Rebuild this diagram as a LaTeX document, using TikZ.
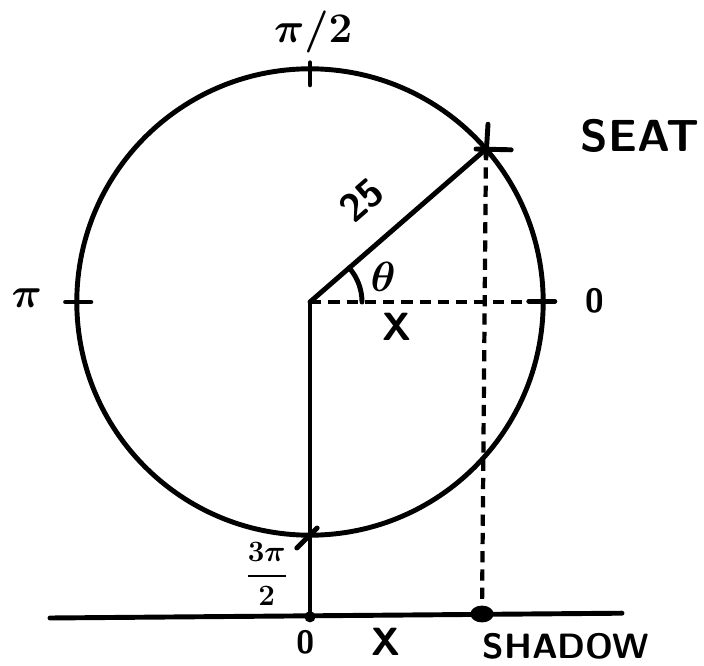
\documentclass[tikz,border=0pt]{standalone}
\usepackage{fix-cm}
\usepackage{amsmath}
\usepackage{tikz}
\usetikzlibrary{positioning,shapes.geometric}

\begin{document}
\begin{tikzpicture}[line cap=round,
	pen/.style={line width=3.5pt},
	dashpen/.style={line width=3pt,line cap=butt,dash pattern=on 8pt off 5pt},
	lbl/.style={font=\sffamily\bfseries\fontsize{28}{30}\selectfont,inner sep=0pt},
	mlbl/.style={font=\boldmath\fontsize{30}{32}\selectfont,inner sep=0pt}]
	\useasboundingbox (-7.75,-9.1) rectangle (9.85,7.55);
	\coordinate (C) at (0,0);          % centre of the wheel
	\coordinate (S) at (41:5.83);      % the seat
	\coordinate (T) at (90:5.83);      % pi/2 mark
	\coordinate (L) at (180:5.83);     % pi mark
	\coordinate (B) at (270:5.83);     % 3pi/2 mark
	\coordinate (E) at (6.12,0);       % end of dashed x line
	\coordinate (gl) at (-6.5,-7.9);   % ground line
	\coordinate (gr) at (7.8,-7.78);
	\draw[pen] (C) circle (5.83);
	\draw[pen] (gl) -- (gr);           % ground
	\node[circle,fill,inner sep=0pt,minimum size=0.28cm] (O) at (0,-7.87) {};
	\node[ellipse,fill,inner sep=0pt,minimum width=0.58cm,minimum height=0.42cm] (sh) at (4.3,-7.8) {};
	\draw[pen] (C) -- (S);             % radius
	\draw[pen] (C) -- (O);
	\draw[dashpen] (C) -- (E);         % x
	\draw[dashpen] (S) -- (sh);        % down to the shadow
	\draw[pen] (1.3,0) arc (0:41:1.3); % theta
	% ticks
	\draw[pen] ([yshift=0.15cm]T) -- ([yshift=-0.4cm]T);
	\draw[pen] ([xshift=-0.28cm]L) -- ([xshift=0.35cm]L);
	\draw[pen] ([shift={(-0.33,-0.32)}]B) -- ([shift={(0.18,0.18)}]B);
	\draw[pen] ([shift={(-0.25,0)}]S) -- ([shift={(0.63,-0.02)}]S);
	\draw[pen] ([shift={(0.05,0.62)}]S) -- ([shift={(0,-0.2)}]S);
	\draw[pen] ([yshift=0.02cm]E) -- ([xshift=-0.65cm,yshift=0.02cm]E);
	% labels
	\node[mlbl] (t2) at (0.08,6.75) {$\pi/2$};
	\node[mlbl] (t1) at (-7.08,0.1) {$\pi$};
	\node[lbl,font=\sffamily\bfseries\fontsize{24}{26}\selectfont] (t0) at (7.13,0.03) {0};
	\node[mlbl,font=\boldmath\fontsize{21}{23}\selectfont] (t3) at (-1.08,-6.8) {$\dfrac{3\pi}{2}$};
	\node[lbl,font=\sffamily\bfseries\fontsize{32}{34}\selectfont] (seat) at (8.25,4.15) {SEAT};
	\node[lbl,rotate=41] (r) at (1.3,2.55) {25};
	\node[mlbl,font=\boldmath\fontsize{30}{32}\selectfont] (th) at (1.83,0.63) {$\theta$};
	\node[lbl] (x1) at (2.17,-0.63) {X};
	\node[lbl,font=\sffamily\bfseries\fontsize{23}{25}\selectfont] (o0) at (-0.12,-8.5) {0};
	\node[lbl] (x2) at (1.9,-8.5) {X};
	\node[lbl,font=\sffamily\bfseries\fontsize{25}{27}\selectfont] (shl) at (6.4,-8.62) {SHADOW};
\end{tikzpicture}
\end{document}
